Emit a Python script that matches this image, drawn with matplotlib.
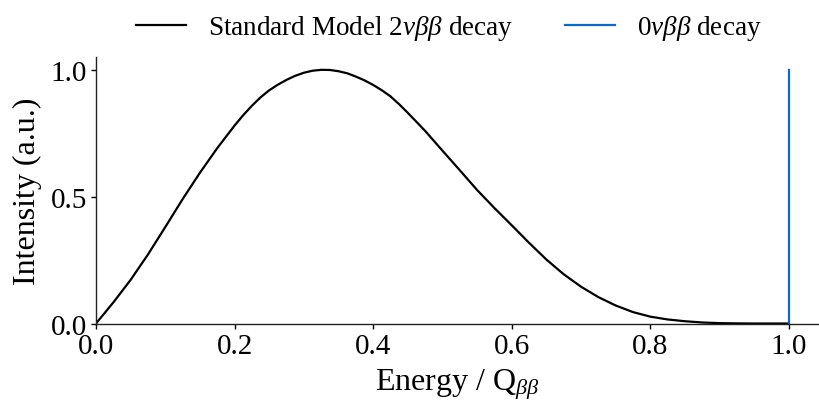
import matplotlib
matplotlib.use("Agg")
import matplotlib.pyplot as plt

# Spectrum (energy in units of Q_bb, normalised intensity)
energy = [0.0, 0.025, 0.05, 0.075, 0.1, 0.125, 0.15, 0.175, 0.2, 0.2125,
          0.225, 0.2375, 0.25, 0.2625, 0.275, 0.2875, 0.3, 0.3125, 0.325, 0.3375,
          0.35, 0.3625, 0.375, 0.3875, 0.4, 0.4125, 0.425, 0.4375, 0.45, 0.475,
          0.5, 0.525, 0.55, 0.575, 0.6, 0.625, 0.65, 0.675, 0.7, 0.725,
          0.75, 0.775, 0.8, 0.825, 0.85, 0.875, 0.9, 0.925, 0.95, 1.0]
intensity_2nu = [0.0, 0.083, 0.172, 0.272, 0.380, 0.490, 0.594, 0.691, 0.780, 0.821,
                 0.858, 0.891, 0.919, 0.941, 0.960, 0.976, 0.988, 0.996, 0.9995, 0.999,
                 0.994, 0.986, 0.973, 0.958, 0.940, 0.919, 0.895, 0.864, 0.830, 0.759,
                 0.681, 0.604, 0.526, 0.455, 0.387, 0.318, 0.252, 0.194, 0.145, 0.104,
                 0.071, 0.045, 0.027, 0.016, 0.009, 0.004, 0.0015, 0.0005, 0.0, 0.0]

# 0vbb line at the Q value
q_value = [1.0, 1.0]
line_0nu = [0.0, 1.0]

labels = [r"Standard Model 2$\nu\beta\beta$ decay", r"0$\nu\beta\beta$ decay"]
xticks = [0.0, 0.2, 0.4, 0.6, 0.8, 1.0]
yticks = [0.0, 0.5, 1.0]

plt.rcParams["font.family"] = ["Liberation Serif", "DejaVu Serif"]
plt.rcParams["mathtext.fontset"] = "custom"
plt.rcParams["mathtext.rm"] = "Liberation Serif"
plt.rcParams["mathtext.it"] = "Liberation Serif:italic"

fig = plt.figure(figsize=(8.19, 4.10), dpi=100)
ax = fig.add_axes([0.1172, 0.2085, 0.8816, 0.65])

ax.plot(energy, intensity_2nu, color="black", lw=1.6, label=labels[0],
        solid_joinstyle="round")
ax.plot(q_value, line_0nu, color="#0a6acb", lw=1.6, label=labels[1])

ax.set_xlim(0, 1.042)
ax.set_ylim(0, 1.05)
ax.set_xticks(xticks)
ax.set_yticks(yticks)
ax.tick_params(labelsize=21, length=3.5, width=1, pad=3)

for side in ["top", "right"]:
    ax.spines[side].set_visible(False)
for side in ["left", "bottom"]:
    ax.spines[side].set_linewidth(1.0)
    ax.spines[side].set_color("#222222")

ax.set_xlabel(r"Energy / Q$_{\beta\beta}$", fontsize=23, labelpad=6)
ax.set_ylabel("Intensity (a.u.)", fontsize=23, labelpad=6)

fig.legend(loc="upper center", bbox_to_anchor=(0.548, 1.025), ncol=2,
           frameon=False, fontsize=19.5, handlelength=1.85, handletextpad=0.8,
           columnspacing=1.9)

fig.savefig("out.png", dpi=100)
